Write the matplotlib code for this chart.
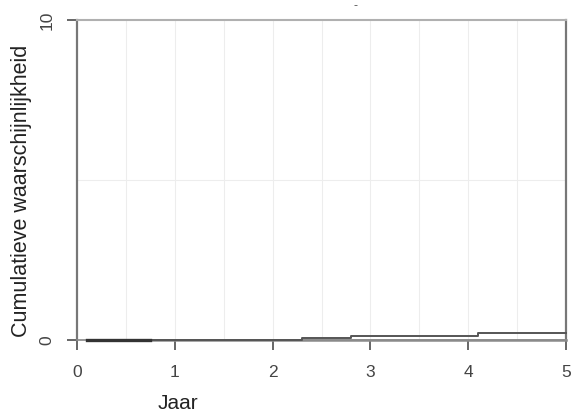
import matplotlib
matplotlib.use("Agg")
import matplotlib.pyplot as plt

plt.rcParams['font.family'] = ['Liberation Sans', 'DejaVu Sans']

# stap-curves (jaar, cumulatieve waarschijnlijkheid)
jaar_a = [0.1, 0.75, 2.3, 2.8, 3.5, 4.1, 5.0]
kans_a = [0.0, 0.001, 0.005, 0.012, 0.014, 0.021, 0.021]
jaar_b = [0.1, 5.0]
kans_b = [0.0, 0.0]

x_ticks = [0, 1, 2, 3, 4, 5]
y_ticks = [0, 1]
y_tick_labels = ['0', '10']

fig = plt.figure(figsize=(5.71, 4.15), dpi=100)
ax = fig.add_axes([0.1349, 0.1807, 0.8563, 0.7711])

# lichte rasterlijnen
for gx in [0.5, 1, 1.5, 2, 2.5, 3, 3.5, 4, 4.5]:
    ax.axvline(gx, color='#ededed', lw=0.8, zorder=0)
ax.axhline(0.5, color='#ededed', lw=0.8, zorder=0)

ax.step(jaar_b, kans_b, where='post', color='#8a8a8a', lw=1.8,
        clip_on=False, zorder=4)
ax.step(jaar_a, kans_a, where='post', color='#555555', lw=1.4,
        clip_on=False, zorder=5)
ax.plot([0.1, 0.75], [0, 0], color='#333333', lw=2.4, clip_on=False, zorder=6)

ax.set_xlim(0, 5)
ax.set_ylim(0, 1)
ax.set_xticks(x_ticks)
ax.set_yticks(y_ticks)
ax.set_yticklabels(y_tick_labels, rotation=90, va='center')
ax.tick_params(axis='both', direction='out', length=7, width=1.4,
               color='#666666', labelcolor='#444444', labelsize=12.5)
ax.tick_params(axis='x', pad=11)
ax.tick_params(axis='y', pad=9)

for side in ['left', 'right']:
    ax.spines[side].set_color('#777777')
    ax.spines[side].set_linewidth(1.6)
ax.spines['bottom'].set_color('#888888')
ax.spines['bottom'].set_linewidth(1.2)
ax.spines['top'].set_color('#b0b0b0')
ax.spines['top'].set_linestyle((0, (1, 1)))
ax.spines['top'].set_linewidth(1.5)

ax.set_ylabel('Cumulatieve waarschijnlijkheid', fontsize=15.5, color='#222222')
ax.yaxis.set_label_coords(-0.093, 0.465)
ax.set_xlabel('Jaar', fontsize=15, color='#222222')
ax.xaxis.set_label_coords(0.207, -0.17)
ax.set_title('-', fontsize=9, color='#555555', pad=8, x=0.57)

fig.savefig('out.png', dpi=100)
